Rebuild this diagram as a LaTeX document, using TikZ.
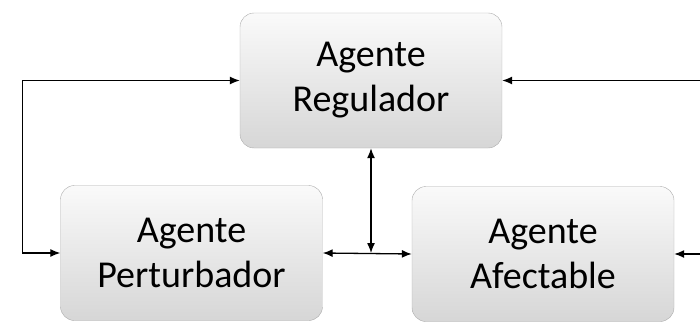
\documentclass[tikz,border=0pt]{standalone}
\usepackage{fontspec}
\setmainfont{Carlito}
\usepackage{tikz}
\usetikzlibrary{arrows.meta,positioning,calc,shadings}

\begin{document}
\begin{tikzpicture}[
    x=1pt, y=1pt,
    agent/.style={rectangle, draw=gray!65, rounded corners=14pt, minimum width=262pt, minimum height=135pt,
      align=center, font=\fontsize{38}{45}\selectfont, top color=gray!4, bottom color=gray!32, inner sep=0pt},
    link/.style={line width=1.3pt, {Latex[length=10pt,width=8pt]}-{Latex[length=10pt,width=8pt]}},
    feed/.style={line width=1.3pt, -{Latex[length=10pt,width=8pt]}}
  ]
    \useasboundingbox (0,0) rectangle (700,322);
    \node[agent] (reg) at (371,241.5) {Agente\\Regulador};
    \node[agent] (pert) at (191.5,69) {Agente\\Perturbador};
    \node[agent] (afe) at (543,68) {Agente\\Afectable};
    \coordinate (inR) at (700,241.5);
    \coordinate (inA) at (700,68);
    \draw[link] (pert.west) -- ++(-38,0) |- (reg.west);
    \draw[link] (pert.east) -- (afe.west);
    \draw[link] (reg.south) -- (reg.south |- pert.east);
    \draw[feed] (inR) -- (reg.east);
    \draw[feed] (inA) -- (afe.east);
  \end{tikzpicture}
\end{document}
